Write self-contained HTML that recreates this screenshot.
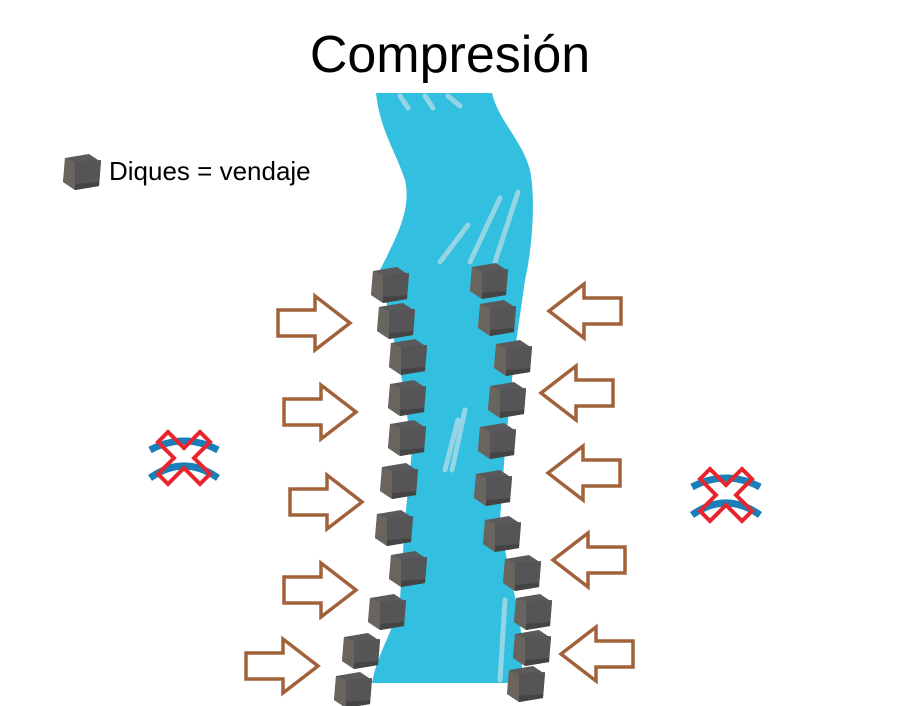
<!DOCTYPE html><html><head><style>body{margin:0;background:#fff}svg{display:block}</style></head><body>
<svg width="900" height="706" viewBox="0 0 900 706" xmlns="http://www.w3.org/2000/svg">
<defs>
<g id="cube"><polygon points="2,6 26,2 38,10 36,34 12,38 0,30" fill="#5a5a5c"/><polygon points="2,6 12,10 12,38 0,30" fill="#6a645f"/><polygon points="12,10 38,8 36,34 12,38" fill="#555557"/><polygon points="12,32 36,30 36,34 12,38" fill="#444"/></g>
<g id="ar"><polygon points="0,-13 37,-13 37,-27 72,0 37,27 37,13 0,13" fill="#fff" stroke="#a0623a" stroke-width="3.5" stroke-linejoin="miter"/></g>
<g id="x"><path d="M0,22 Q34,4 68,22" stroke="#1a7fb8" stroke-width="7" fill="none"/><path d="M0,50 Q34,26 68,50" stroke="#1a7fb8" stroke-width="7" fill="none"/>
<path d="M8,14 L18,4 L34,20 L50,4 L60,14 L44,30 L60,46 L50,56 L34,40 L18,56 L8,46 L24,30 Z" fill="none" stroke="#e8242c" stroke-width="4"/></g>
</defs>
<text x="450" y="72" text-anchor="middle" font-family="Liberation Sans, sans-serif" font-size="52" fill="#000">Compresión</text>
<g transform="translate(63,152) scale(1)"><use href="#cube"/></g>
<text x="109" y="180" font-family="Liberation Sans, sans-serif" font-size="26" fill="#000">Diques = vendaje</text>
<path d="M376,93 L492,93 C498,120 522,140 530,170 C536,200 532,250 525,280 L515,350 L505,450 L500,520 C505,560 518,600 522,640 L522,683 L372,683 C378,650 395,630 400,600 L405,520 L412,450 L402,380 L390,320 L380,270 C395,240 412,210 405,180 C395,150 380,130 376,93 Z" fill="#33bfdf"/>
<g stroke="#9fd8e6" stroke-width="5" stroke-linecap="round" fill="none" opacity="0.9">
<path d="M400,96 L408,108"/><path d="M425,96 L433,108"/><path d="M448,96 L460,106"/>
<path d="M468,225 L440,262"/><path d="M500,198 L470,262"/><path d="M518,192 L495,262"/>
<path d="M465,410 L452,470"/><path d="M458,420 L445,470"/><path d="M505,600 L500,680"/>
</g>
<g>
<use href="#cube" x="371" y="265"/><use href="#cube" x="377" y="301"/><use href="#cube" x="389" y="337"/><use href="#cube" x="388" y="378"/><use href="#cube" x="388" y="418"/><use href="#cube" x="380" y="461"/><use href="#cube" x="375" y="508"/><use href="#cube" x="389" y="549"/><use href="#cube" x="368" y="592"/><use href="#cube" x="342" y="631"/><use href="#cube" x="334" y="670"/>
<use href="#cube" x="470" y="261"/><use href="#cube" x="478" y="298"/><use href="#cube" x="494" y="338"/><use href="#cube" x="488" y="380"/><use href="#cube" x="478" y="421"/><use href="#cube" x="474" y="468"/><use href="#cube" x="483" y="514"/><use href="#cube" x="503" y="553"/><use href="#cube" x="514" y="592"/><use href="#cube" x="513" y="628"/><use href="#cube" x="507" y="664"/>
</g>
<use href="#ar" transform="translate(278,323)"/><use href="#ar" transform="translate(284,412)"/><use href="#ar" transform="translate(290,502)"/><use href="#ar" transform="translate(284,590)"/><use href="#ar" transform="translate(246,666)"/>
<use href="#ar" transform="translate(621,311) scale(-1,1)"/><use href="#ar" transform="translate(613,393) scale(-1,1)"/><use href="#ar" transform="translate(620,473) scale(-1,1)"/><use href="#ar" transform="translate(625,560) scale(-1,1)"/><use href="#ar" transform="translate(633,654) scale(-1,1)"/>
<use href="#x" transform="translate(150,428)"/><use href="#x" transform="translate(692,465)"/>
</svg></body></html>
